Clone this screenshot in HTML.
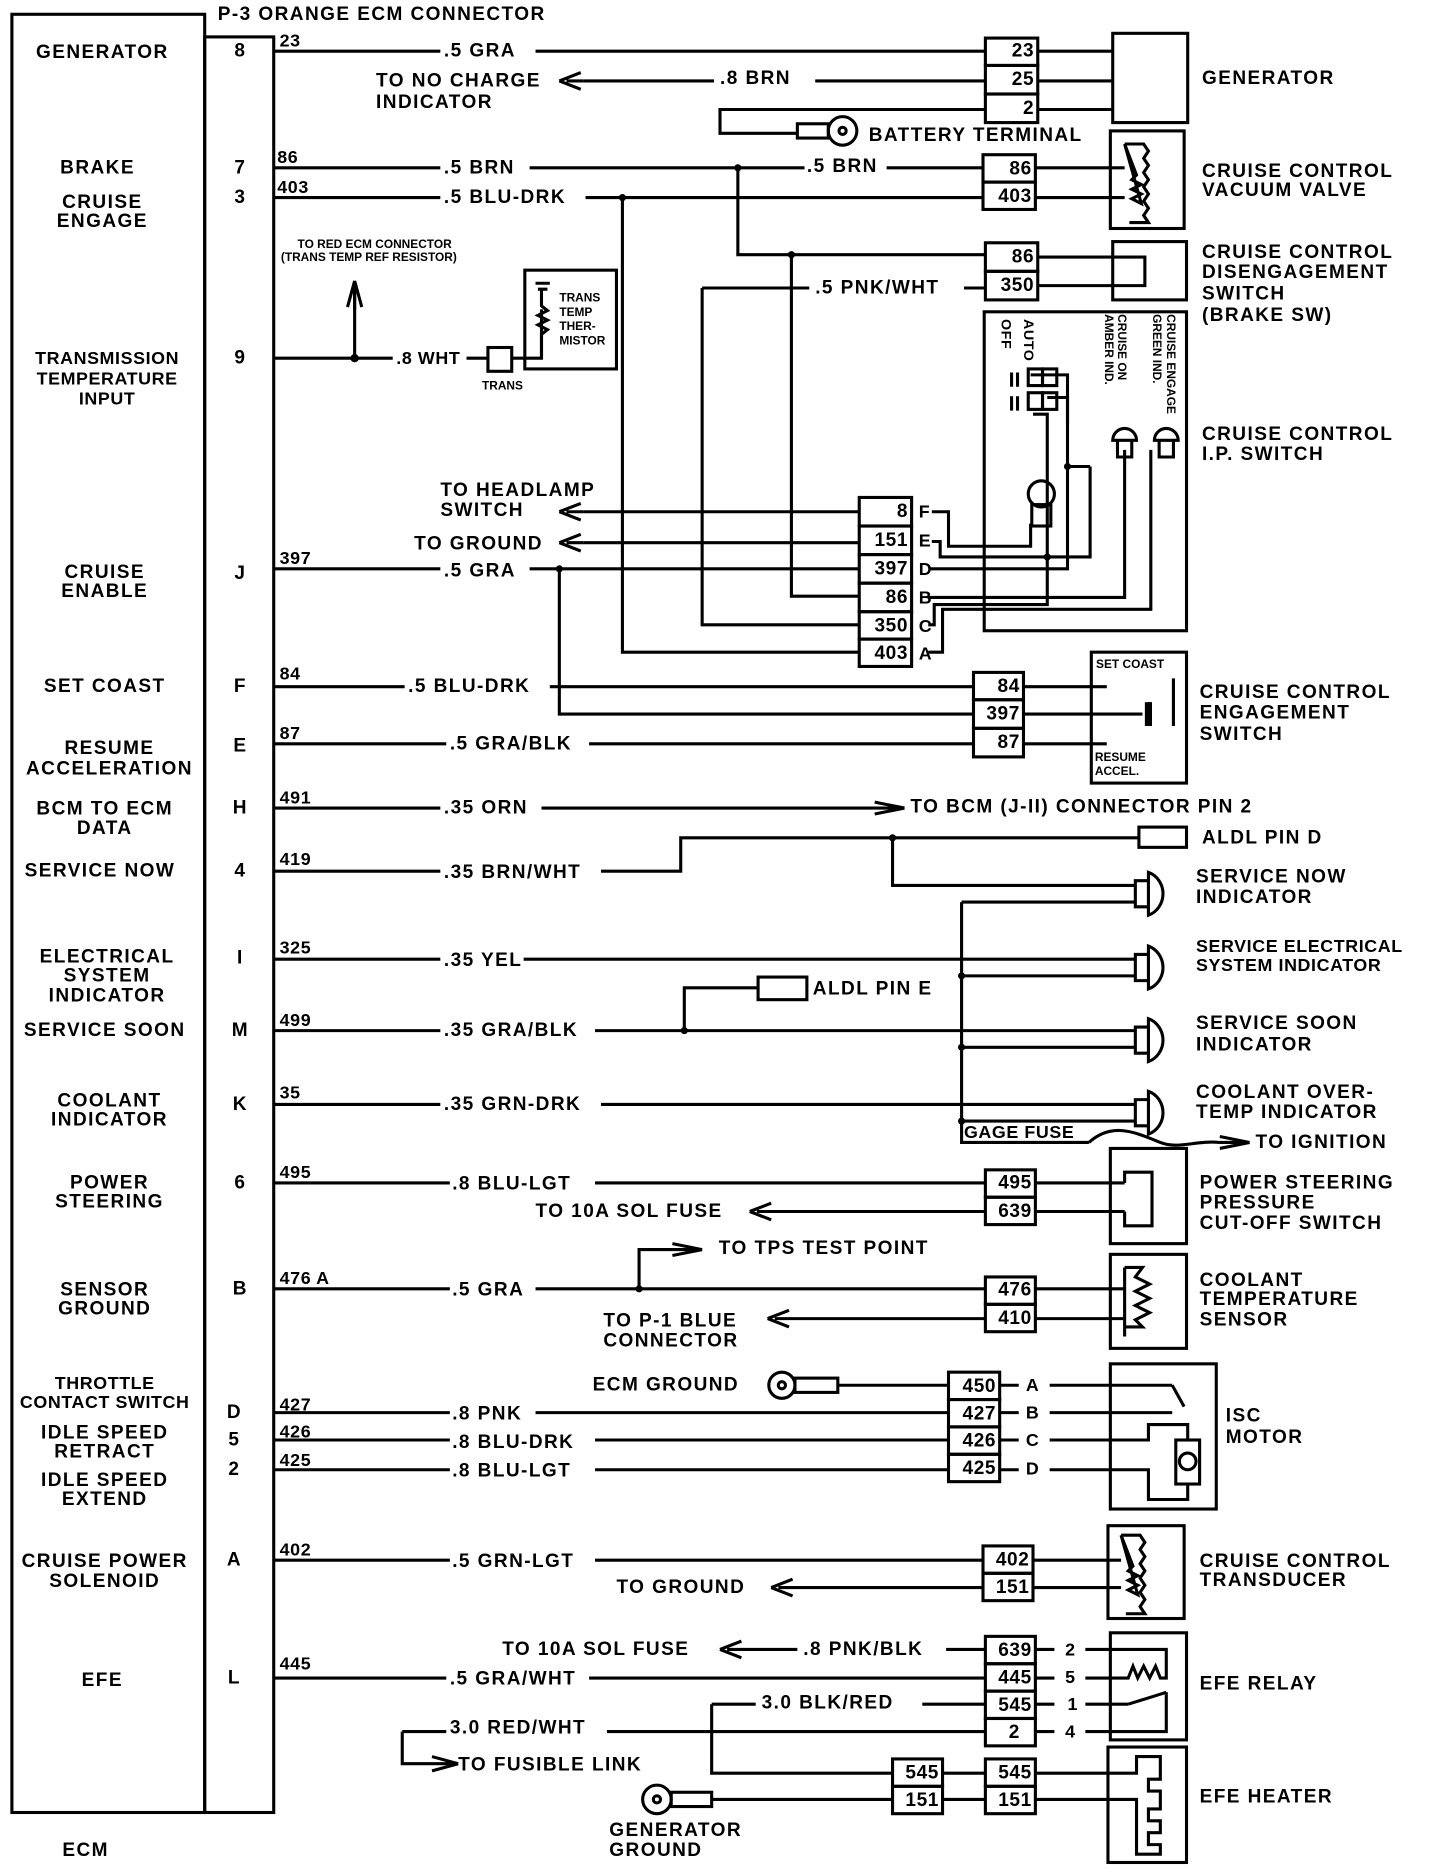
<!DOCTYPE html>
<html><head><meta charset="utf-8"><style>
html,body{margin:0;padding:0;background:#fff;}
svg{display:block;}
text{font-family:"Liberation Sans",sans-serif;font-weight:bold;font-size:16px;letter-spacing:1.2px;fill:#000;dominant-baseline:central;}
text.s{font-size:15px;letter-spacing:0.5px;}
text.t{font-size:10px;letter-spacing:0;}
text.r{font-size:12px;letter-spacing:0.5px;}
text.m{text-anchor:middle;}
text.e{text-anchor:end;letter-spacing:0.5px;}
</style></head><body>
<svg width="1440" height="1872" viewBox="0 0 1210 1573" preserveAspectRatio="none" xmlns="http://www.w3.org/2000/svg">
<g fill="none" stroke="#000" stroke-width="2.6">
<rect x="10" y="12" width="162" height="1511"/>
<rect x="172" y="31" width="58" height="1492"/>
<path d="M230 43H370M450 43H828M490 68H600M685 68H828M828 92H605V112H670"/>
<path d="M470 68l18-7M470 68l18 7M476 68h14"/>
<circle cx="708" cy="110" r="12"/><circle cx="708" cy="110" r="3"/>
<rect x="670" y="104" width="26" height="12"/>
<rect x="828" y="32" width="44" height="23"/><rect x="828" y="55" width="44" height="24"/><rect x="828" y="79" width="44" height="24"/>
<path d="M872 43H935M872 68H935M872 92H935"/>
<rect x="935" y="28" width="63" height="75"/>
<path d="M230 141H370M445 141H676M745 141H826M230 166H370M492 166H826"/>
<path d="M620 141V214H828M523 166V548H722M665 214V501H722"/>
<rect x="826" y="130" width="44" height="23"/><rect x="826" y="153" width="44" height="23"/>
<path d="M870 141H945M870 166H945"/>
<rect x="933" y="110" width="62" height="82"/>
<path d="M945 121l16 0l4 6l-4 6l4 6l-4 6l4 6l-4 6l4 6l-4 6l4 6l-4 6l4 6h-16M945 121l10 26l-4 4l8 4l-8 4l8 4l-8 4l8 4z"/>
<rect x="828" y="204" width="44" height="24"/><rect x="828" y="228" width="44" height="24"/>
<path d="M590 242H680M810 242H828M590 242V525H722M872 216H962V240H872"/>
<rect x="935" y="203" width="62" height="49"/>
<path d="M230 301H330M392 301H410M430 301H455V260M298 301V240"/>
<path d="M298 236l-6 22M298 236l6 22M298 244v16"/>
<rect x="410" y="292" width="20" height="20"/>
<rect x="441" y="227" width="77" height="83"/>
<path d="M450 238h12M452 243h8M455 243v14l5 4l-8 4l8 4l-8 4l8 4l-5 4v20"/>
<rect x="827" y="262" width="170" height="268"/>
<rect x="722" y="418" width="44" height="24"/><rect x="722" y="442" width="44" height="24"/><rect x="722" y="466" width="44" height="24"/><rect x="722" y="490" width="44" height="24"/><rect x="722" y="514" width="44" height="23"/><rect x="722" y="537" width="44" height="23"/>
<path d="M490 430H722M490 456H722M230 478H370M445 478H722"/>
<path d="M470 430l18-7M470 430l18 7M476 430h14M470 456l18-7M470 456l18 7M476 456h14"/>
<path d="M783 430H797V459H866V440M783 455H790V468H916V392M781 478H897V334H880M780 502H945V378M780 525H785V508H880V348H868M780 548H792V512H967V378"/>
<path d="M897 356V315H866"/>
<rect x="864" y="310" width="12" height="14"/><rect x="876" y="310" width="12" height="14"/>
<rect x="864" y="330" width="12" height="14"/><rect x="876" y="330" width="12" height="14"/>
<path d="M855 313v12M850 313v12M855 333v12M850 333v12"/>
<circle cx="875" cy="415" r="11"/><rect x="867" y="424" width="16" height="18"/>
<path d="M935 370a10 10 0 0 1 20 0zM939 370h12v14h-12zM970 370a10 10 0 0 1 20 0zM974 370h12v14h-12z"/>
<path d="M897 392H916"/>
<path d="M230 577H340M462 577H818M470 478V600H818M230 625H375M495 625H818"/>
<rect x="818" y="565" width="42" height="23"/><rect x="818" y="588" width="42" height="24"/><rect x="818" y="612" width="42" height="24"/>
<path d="M860 577H930M860 600H960M860 625H930"/>
<rect x="917" y="548" width="80" height="110"/>
<path d="M966 590v20M986 570v40"/>
<path d="M230 679H370M455 679H760M760 679l-25-5M760 679l-25 5M740 679h20"/>
<path d="M230 732H370M505 732H572V704H957M750 704V744H954"/>
<rect x="957" y="695" width="40" height="17"/>
<path d="M230 806H370M440 806H954M230 866H370M500 866H954M575 866V830H637M230 928H370M505 928H954"/>
<rect x="637" y="821" width="41" height="19"/>
<path d="M808 758H954M808 758V960H915M808 820H954M808 880H954M808 942H954"/>
<path d="M915 960c20-18 40-8 60 0c15 6 30-2 50 0H1050M1050 960l-25-5M1050 960l-25 5"/>
<path d="M954 740h11v22h-11zM965 733a18 19 0 0 1 0 36zM954 802h11v22h-11zM965 795a18 19 0 0 1 0 36zM954 863h11v22h-11zM965 856a18 19 0 0 1 0 36zM954 924h11v22h-11zM965 917a18 19 0 0 1 0 36z"/>
<path d="M230 994H378M500 994H828M650 1018H828M630 1018l18-7M630 1018l18 7M636 1018h14"/>
<rect x="828" y="983" width="42" height="23"/><rect x="828" y="1006" width="42" height="23"/>
<path d="M870 994H945M870 1018H945M945 994V985H968V1030H945V1018"/>
<rect x="933" y="965" width="64" height="80"/>
<path d="M230 1083H378M450 1083H828M537 1083V1050H590M590 1050l-25-5M590 1050l-25 5M570 1050h20M665 1108H828M645 1108l18-7M645 1108l18 7M651 1108h14"/>
<rect x="828" y="1073" width="42" height="23"/><rect x="828" y="1096" width="42" height="23"/>
<path d="M870 1083H945M870 1108H945M945 1065H960l-6 8l12 6l-12 6l12 6l-12 6l12 6l-12 6l6 6H945M945 1065V1123"/>
<rect x="933" y="1054" width="64" height="79"/>
<path d="M230 1187H378M450 1187H797M230 1210H378M500 1210H797M230 1235H378M500 1235H797"/>
<circle cx="657" cy="1164" r="11"/><circle cx="657" cy="1164" r="3"/><rect x="668" y="1158" width="36" height="12"/>
<path d="M704 1164H797"/>
<rect x="797" y="1153" width="43" height="23"/><rect x="797" y="1176" width="43" height="23"/><rect x="797" y="1199" width="43" height="23"/><rect x="797" y="1222" width="43" height="23"/>
<path d="M840 1164H856M840 1187H856M840 1210H856M840 1235H856M882 1164H985M882 1187H985M882 1210H965V1197H998V1210M882 1235H965V1260H998V1247"/>
<path d="M985 1164l10 18"/>
<rect x="988" y="1210" width="20" height="37"/><circle cx="998" cy="1228" r="7"/>
<rect x="933" y="1146" width="89" height="122"/>
<path d="M230 1311H378M500 1311H826M668 1334H826M648 1334l18-7M648 1334l18 7M654 1334h14"/>
<rect x="826" y="1299" width="42" height="23"/><rect x="826" y="1322" width="42" height="23"/>
<path d="M868 1311H942M868 1334H942"/>
<path d="M942 1290l16 0l4 6l-4 6l4 6l-4 6l4 6l-4 6l4 6l-4 6l4 6l-4 6l4 6h-16M942 1290l10 26l-4 4l8 4l-8 4l8 4l-8 4l8 4z"/>
<rect x="931" y="1282" width="64" height="78"/>
<path d="M625 1386H670M795 1386H828M605 1386l18-7M605 1386l18 7M611 1386h14M230 1410H375M495 1410H828M598 1432H635M775 1432H828M598 1432V1490H750M338 1455H375M510 1455H828M338 1455V1482H380M385 1482l-22-6M385 1482l-22 6"/>
<rect x="828" y="1375" width="42" height="23"/><rect x="828" y="1398" width="42" height="23"/><rect x="828" y="1421" width="42" height="23"/><rect x="828" y="1444" width="42" height="23"/>
<path d="M870 1386H886M870 1410H886M870 1432H886M870 1455H886M912 1386H948M912 1410H948M912 1432H948M912 1455H980V1422M948 1386H980V1410l-5 0l-4 -10l-5 10l-5-10l-5 10l-4-10l-4 10h-4M948 1432l32-10"/>
<rect x="933" y="1372" width="64" height="90"/>
<circle cx="552" cy="1512" r="12"/><circle cx="552" cy="1512" r="3"/><rect x="564" y="1506" width="34" height="12"/>
<path d="M598 1512H750"/>
<rect x="750" y="1478" width="42" height="23"/><rect x="750" y="1501" width="42" height="23"/>
<path d="M792 1490H828M792 1512H828"/>
<rect x="828" y="1478" width="42" height="23"/><rect x="828" y="1501" width="42" height="23"/>
<path d="M870 1490H955V1476H975V1495H965V1505H975V1520H965V1530H975V1540H965V1550H975V1558H955V1512H870"/>
<rect x="931" y="1468" width="66" height="97"/>
</g>
<g fill="#000">
<circle cx="620" cy="141" r="3"/><circle cx="523" cy="166" r="3"/><circle cx="665" cy="214" r="3"/><circle cx="298" cy="301" r="3.5"/>
<circle cx="470" cy="478" r="3"/><circle cx="897" cy="392" r="3"/><circle cx="880" cy="468" r="3"/>
<circle cx="750" cy="704" r="3"/><circle cx="575" cy="866" r="3"/><circle cx="808" cy="820" r="3"/><circle cx="808" cy="880" r="3"/><circle cx="808" cy="942" r="3"/>
<circle cx="537" cy="1083" r="3"/>
<rect x="962" y="590" width="6" height="20"/>
</g>
<text x="183" y="12">P-3 ORANGE ECM CONNECTOR</text>
<text class="m" x="86" y="44">GENERATOR</text>
<text class="m" x="82" y="141">BRAKE</text>
<text class="m" x="86" y="170">CRUISE</text><text class="m" x="86" y="186">ENGAGE</text>
<text x="90" y="301" class="s m">TRANSMISSION</text><text x="90" y="318" class="s m">TEMPERATURE</text><text x="90" y="335" class="s m">INPUT</text>
<text class="m" x="88" y="481">CRUISE</text><text class="m" x="88" y="497">ENABLE</text>
<text class="m" x="88" y="577">SET COAST</text>
<text class="m" x="92" y="629">RESUME</text><text class="m" x="92" y="646">ACCELERATION</text>
<text class="m" x="88" y="680">BCM TO ECM</text><text class="m" x="88" y="696">DATA</text>
<text class="m" x="84" y="732">SERVICE NOW</text>
<text class="m" x="90" y="804">ELECTRICAL</text><text class="m" x="90" y="820">SYSTEM</text><text class="m" x="90" y="837">INDICATOR</text>
<text class="m" x="88" y="866">SERVICE SOON</text>
<text class="m" x="92" y="925">COOLANT</text><text class="m" x="92" y="941">INDICATOR</text>
<text class="m" x="92" y="994">POWER</text><text class="m" x="92" y="1010">STEERING</text>
<text class="m" x="88" y="1084">SENSOR</text><text class="m" x="88" y="1100">GROUND</text>
<text x="88" y="1162" class="s m">THROTTLE</text><text x="88" y="1178" class="s m">CONTACT SWITCH</text>
<text class="m" x="88" y="1204">IDLE SPEED</text><text class="m" x="88" y="1220">RETRACT</text>
<text class="m" x="88" y="1244">IDLE SPEED</text><text class="m" x="88" y="1260">EXTEND</text>
<text class="m" x="88" y="1312">CRUISE POWER</text><text class="m" x="88" y="1329">SOLENOID</text>
<text class="m" x="86" y="1412">EFE</text>
<text class="m" x="72" y="1555">ECM</text>
<text class="m" x="202" y="43">8</text><text class="m" x="202" y="141">7</text><text class="m" x="202" y="166">3</text><text class="m" x="202" y="301">9</text>
<text class="m" x="202" y="482">J</text><text class="m" x="202" y="577">F</text><text class="m" x="202" y="627">E</text><text class="m" x="202" y="679">H</text>
<text class="m" x="202" y="732">4</text><text class="m" x="202" y="805">I</text><text class="m" x="202" y="866">M</text><text class="m" x="202" y="928">K</text>
<text class="m" x="202" y="994">6</text><text class="m" x="202" y="1083">B</text><text class="m" x="197" y="1187">D</text><text class="m" x="197" y="1210">5</text>
<text class="m" x="197" y="1235">2</text><text class="m" x="197" y="1311">A</text><text class="m" x="197" y="1410">L</text>
<text class="s" x="235" y="34">23</text><text class="s" x="233" y="132">86</text><text class="s" x="233" y="157">403</text>
<text class="s" x="235" y="469">397</text><text class="s" x="235" y="566">84</text><text class="s" x="235" y="616">87</text>
<text class="s" x="235" y="670">491</text><text class="s" x="235" y="722">419</text><text class="s" x="235" y="796">325</text>
<text class="s" x="235" y="857">499</text><text class="s" x="235" y="918">35</text><text class="s" x="235" y="985">495</text>
<text class="s" x="235" y="1074">476 A</text><text class="s" x="235" y="1180">427</text><text class="s" x="235" y="1203">426</text>
<text class="s" x="235" y="1227">425</text><text class="s" x="235" y="1302">402</text><text class="s" x="235" y="1398">445</text>
<text x="373" y="43">.5 GRA</text>
<text x="316" y="68">TO NO CHARGE</text><text x="316" y="86">INDICATOR</text>
<text x="605" y="66">.8 BRN</text>
<text x="730" y="114">BATTERY TERMINAL</text>
<text x="373" y="141">.5 BRN</text><text x="678" y="140">.5 BRN</text>
<text x="373" y="166">.5 BLU-DRK</text>
<text x="685" y="242">.5 PNK/WHT</text>
<text x="250" y="205" class="t">TO RED ECM CONNECTOR</text>
<text x="236" y="216" class="t">(TRANS TEMP REF RESISTOR)</text>
<text x="333" y="301" class="s">.8 WHT</text>
<text x="405" y="324" class="t">TRANS</text>
<text x="470" y="250" class="t">TRANS</text><text x="470" y="262" class="t">TEMP</text><text x="470" y="274" class="t">THER-</text><text x="470" y="286" class="t">MISTOR</text>
<text x="370" y="412">TO HEADLAMP</text><text x="370" y="429">SWITCH</text>
<text x="348" y="457">TO GROUND</text>
<text x="373" y="480">.5 GRA</text>
<text x="343" y="577">.5 BLU-DRK</text>
<text x="378" y="625">.5 GRA/BLK</text>
<text x="373" y="679">.35 ORN</text>
<text x="765" y="678">TO BCM (J-II) CONNECTOR PIN 2</text>
<text x="373" y="733">.35 BRN/WHT</text>
<text x="373" y="807">.35 YEL</text>
<text x="373" y="866">.35 GRA/BLK</text>
<text x="373" y="928">.35 GRN-DRK</text>
<text x="1010" y="704">ALDL PIN D</text>
<text x="683" y="831">ALDL PIN E</text>
<text x="810" y="951" class="s">GAGE FUSE</text>
<text x="1055" y="960">TO IGNITION</text>
<text x="380" y="995">.8 BLU-LGT</text>
<text x="450" y="1018">TO 10A SOL FUSE</text>
<text x="604" y="1049">TO TPS TEST POINT</text>
<text x="380" y="1084">.5 GRA</text>
<text x="507" y="1110">TO P-1 BLUE</text><text x="507" y="1127">CONNECTOR</text>
<text x="498" y="1164">ECM GROUND</text>
<text x="380" y="1188">.8 PNK</text><text x="380" y="1212">.8 BLU-DRK</text><text x="380" y="1236">.8 BLU-LGT</text>
<text x="380" y="1312">.5 GRN-LGT</text>
<text x="518" y="1334">TO GROUND</text>
<text x="422" y="1386">TO 10A SOL FUSE</text><text x="675" y="1386">.8 PNK/BLK</text>
<text x="378" y="1411">.5 GRA/WHT</text>
<text x="640" y="1431">3.0 BLK/RED</text>
<text x="378" y="1452">3.0 RED/WHT</text>
<text x="385" y="1483">TO FUSIBLE LINK</text>
<text x="512" y="1538">GENERATOR</text><text x="512" y="1555">GROUND</text>
<text class="e" x="869" y="43">23</text><text class="e" x="869" y="67">25</text><text class="e" x="869" y="91">2</text>
<text class="e" x="867" y="142">86</text><text class="e" x="867" y="165">403</text>
<text class="e" x="869" y="216">86</text><text class="e" x="869" y="240">350</text>
<text class="e" x="763" y="430">8</text><text class="e" x="763" y="454">151</text><text class="e" x="763" y="478">397</text><text class="e" x="763" y="502">86</text><text class="e" x="763" y="526">350</text><text class="e" x="763" y="549">403</text>
<text class="e" x="857" y="577">84</text><text class="e" x="857" y="600">397</text><text class="e" x="857" y="624">87</text>
<text class="e" x="867" y="994">495</text><text class="e" x="867" y="1018">639</text>
<text class="e" x="867" y="1084">476</text><text class="e" x="867" y="1108">410</text>
<text class="e" x="837" y="1165">450</text><text class="e" x="837" y="1188">427</text><text class="e" x="837" y="1211">426</text><text class="e" x="837" y="1234">425</text>
<text class="e" x="865" y="1311">402</text><text class="e" x="865" y="1334">151</text>
<text class="e" x="867" y="1387">639</text><text class="e" x="867" y="1410">445</text><text class="e" x="867" y="1433">545</text><text class="e" x="857" y="1456">2</text>
<text class="e" x="789" y="1490">545</text><text class="e" x="789" y="1513">151</text>
<text class="e" x="867" y="1490">545</text><text class="e" x="867" y="1513">151</text>
<text class="s" x="772" y="430">F</text><text class="s" x="772" y="454">E</text><text class="s" x="772" y="478">D</text><text class="s" x="772" y="502">B</text><text class="s" x="772" y="526">C</text><text class="s" x="772" y="549">A</text>
<text class="s" x="862" y="1164">A</text><text class="s" x="862" y="1187">B</text><text class="s" x="862" y="1210">C</text><text class="s" x="862" y="1234">D</text>
<text class="s" x="895" y="1386">2</text><text class="s" x="895" y="1409">5</text><text class="s" x="897" y="1432">1</text><text class="s" x="895" y="1455">4</text>
<text x="921" y="558" class="t">SET COAST</text>
<text x="920" y="636" class="t">RESUME</text><text x="920" y="648" class="t">ACCEL.</text>
<text class="r" transform="translate(845,268) rotate(90)">OFF</text>
<text class="r" transform="translate(864,268) rotate(90)">AUTO</text>
<text class="t" transform="translate(943,264) rotate(90)">CRUISE ON</text>
<text class="t" transform="translate(932,264) rotate(90)">AMBER IND.</text>
<text class="t" transform="translate(984,264) rotate(90)">CRUISE ENGAGE</text>
<text class="t" transform="translate(972,264) rotate(90)">GREEN IND.</text>
<text x="1010" y="66">GENERATOR</text>
<text x="1010" y="144">CRUISE CONTROL</text><text x="1010" y="160">VACUUM VALVE</text>
<text x="1010" y="212">CRUISE CONTROL</text><text x="1010" y="229">DISENGAGEMENT</text><text x="1010" y="247">SWITCH</text><text x="1010" y="265">(BRAKE SW)</text>
<text x="1010" y="365">CRUISE CONTROL</text><text x="1010" y="382">I.P. SWITCH</text>
<text x="1008" y="582">CRUISE CONTROL</text><text x="1008" y="599">ENGAGEMENT</text><text x="1008" y="617">SWITCH</text>
<text x="1005" y="737">SERVICE NOW</text><text x="1005" y="754">INDICATOR</text>
<text x="1005" y="795" class="s">SERVICE ELECTRICAL</text><text x="1005" y="811" class="s">SYSTEM INDICATOR</text>
<text x="1005" y="860">SERVICE SOON</text><text x="1005" y="878">INDICATOR</text>
<text x="1005" y="918">COOLANT OVER-</text><text x="1005" y="935">TEMP INDICATOR</text>
<text x="1008" y="994">POWER STEERING</text><text x="1008" y="1011">PRESSURE</text><text x="1008" y="1028">CUT-OFF SWITCH</text>
<text x="1008" y="1076">COOLANT</text><text x="1008" y="1092">TEMPERATURE</text><text x="1008" y="1109">SENSOR</text>
<text x="1030" y="1190">ISC</text><text x="1030" y="1208">MOTOR</text>
<text x="1008" y="1312">CRUISE CONTROL</text><text x="1008" y="1328">TRANSDUCER</text>
<text x="1008" y="1415">EFE RELAY</text>
<text x="1008" y="1510">EFE HEATER</text>
</svg>
</body></html>
